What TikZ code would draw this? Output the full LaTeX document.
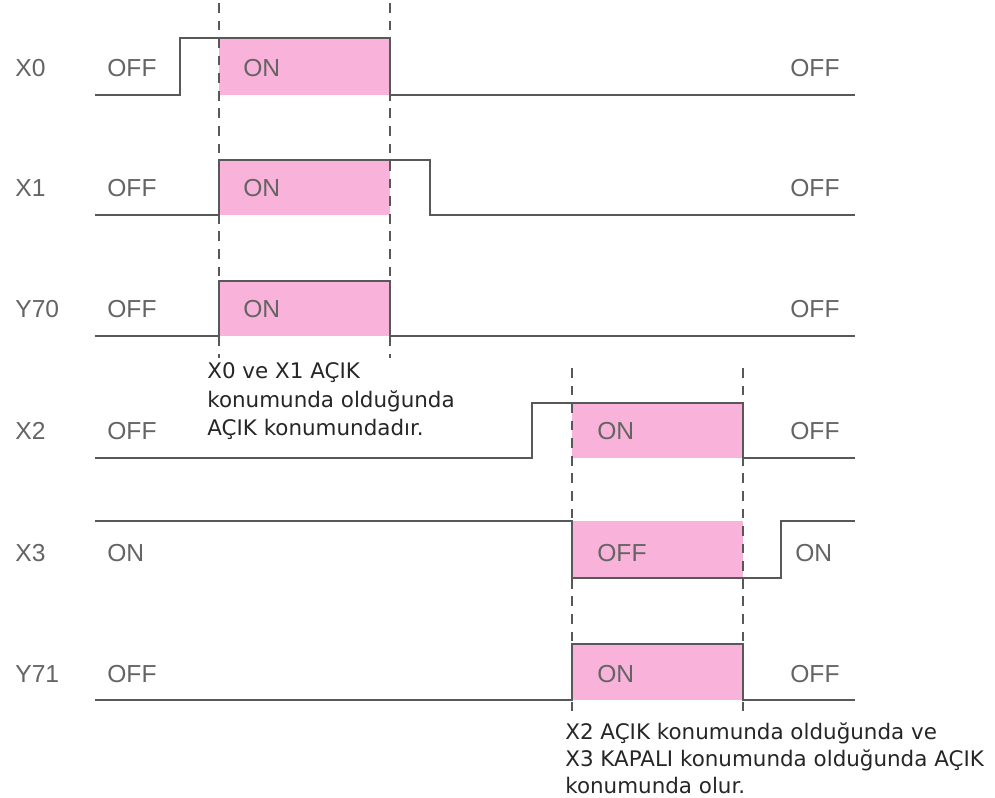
\documentclass[tikz,border=0pt]{standalone}
\usepackage{fontspec}
\setmainfont{DejaVu Sans}
\newfontfamily\sigfont{Liberation Sans}
\usetikzlibrary{positioning}

\definecolor{pulsepink}{RGB}{249,178,217}
\definecolor{wavegray}{RGB}{88,88,88}
\definecolor{labelgray}{RGB}{100,100,100}

\begin{document}
\begin{tikzpicture}[x=0.02cm, y=-0.02cm, line cap=butt, line join=miter,
  wave/.style={draw=wavegray, line width=1.3pt},
  pulse/.style={fill=pulsepink},
  guide/.style={draw=wavegray, line width=1.1pt, dash pattern=on 5.5pt off 4.5pt},
  signame/.style={anchor=west, text=labelgray, inner sep=0pt, font=\sigfont\fontsize{14}{16}\selectfont},
  state/.style={signame},
  note/.style={align=left, anchor=north west, inner sep=0pt, text=black!85}]

  \useasboundingbox (0,0) rectangle (995,798);

  % ===== パルス（塗り）=====
  \fill[pulse] (219,38)  rectangle (390,95);   % X0
  \fill[pulse] (219,160) rectangle (390,215);  % X1
  \fill[pulse] (219,281) rectangle (390,336);  % Y70
  \fill[pulse] (572,403) rectangle (743,458);  % X2
  \fill[pulse] (572,521) rectangle (743,578);  % X3
  \fill[pulse] (572,644) rectangle (743,700);  % Y71

  % ===== 補助線 =====
  \coordinate (gAtop) at (219,3);   \coordinate (gAbot) at (219,358);
  \coordinate (gBtop) at (390,3);   \coordinate (gBbot) at (390,358);
  \coordinate (gCtop) at (572,368); \coordinate (gCbot) at (572,714);
  \coordinate (gDtop) at (743,368); \coordinate (gDbot) at (743,714);
  \draw[guide] (gAtop) -- (gAbot);
  \draw[guide] (gBtop) -- (gBbot);
  \draw[guide] (gCtop) -- (gCbot);
  \draw[guide] (gDtop) -- (gDbot);

  % ===== 波形 =====
  \draw[wave] (95,95)  -- (180,95)  -- (180,38)  -- (390,38)  -- (390,95)  -- (855,95);   % X0
  \draw[wave] (95,215) -- (219,215) -- (219,160) -- (430,160) -- (430,215) -- (855,215);  % X1
  \draw[wave] (95,336) -- (219,336) -- (219,281) -- (390,281) -- (390,336) -- (855,336);  % Y70
  \draw[wave] (95,458) -- (532,458) -- (532,403) -- (743,403) -- (743,458) -- (855,458);  % X2
  \draw[wave] (95,521) -- (572,521) -- (572,578) -- (781,578) -- (781,521) -- (855,521);  % X3
  \draw[wave] (95,700) -- (572,700) -- (572,644) -- (743,644) -- (743,700) -- (855,700);  % Y71

  % ===== 信号名 =====
  \node[signame] (nX0)  at (15,68)  {X0};
  \node[signame] (nX1)  at (15,188) {X1};
  \node[signame] (nY70) at (15,309) {Y70};
  \node[signame] (nX2)  at (15,431) {X2};
  \node[signame] (nX3)  at (15,553) {X3};
  \node[signame] (nY71) at (15,674) {Y71};

  % ---- X0 ----
  \node[state] (sX0a) at (107,68) {OFF};
  \node[state] (sX0b) at (243,68) {ON};
  \node[state] (sX0c) at (790,68) {OFF};

  % ---- X1 ----
  \node[state] (sX1a) at (107,188) {OFF};
  \node[state] (sX1b) at (243,188) {ON};
  \node[state] (sX1c) at (790,188) {OFF};

  % ---- Y70 ----
  \node[state] (sY70a) at (107,309) {OFF};
  \node[state] (sY70b) at (243,309) {ON};
  \node[state] (sY70c) at (790,309) {OFF};

  % ---- X2 ----
  \node[state] (sX2a) at (107,431) {OFF};
  \node[state] (sX2b) at (597,431) {ON};
  \node[state] (sX2c) at (790,431) {OFF};

  % ---- X3 ----
  \node[state] (sX3a) at (107,553) {ON};
  \node[state] (sX3b) at (597,553) {OFF};
  \node[state] (sX3c) at (795,553) {ON};

  % ---- Y71 ----
  \node[state] (sY71a) at (107,674) {OFF};
  \node[state] (sY71b) at (597,674) {ON};
  \node[state] (sY71c) at (790,674) {OFF};

  % ===== 説明 =====
  \node[note, font=\fontsize{12.2}{16.4}\selectfont] (noteA) at (207,362)
  {X0 ve X1 AÇIK\\konumunda olduğunda\\AÇIK konumundadır.};
  \node[note, font=\fontsize{12.2}{15.4}\selectfont] (noteB) at (565,722)
  {X2 AÇIK konumunda olduğunda ve\\X3 KAPALI konumunda olduğunda AÇIK\\konumunda olur.};

\end{tikzpicture}
\end{document}
